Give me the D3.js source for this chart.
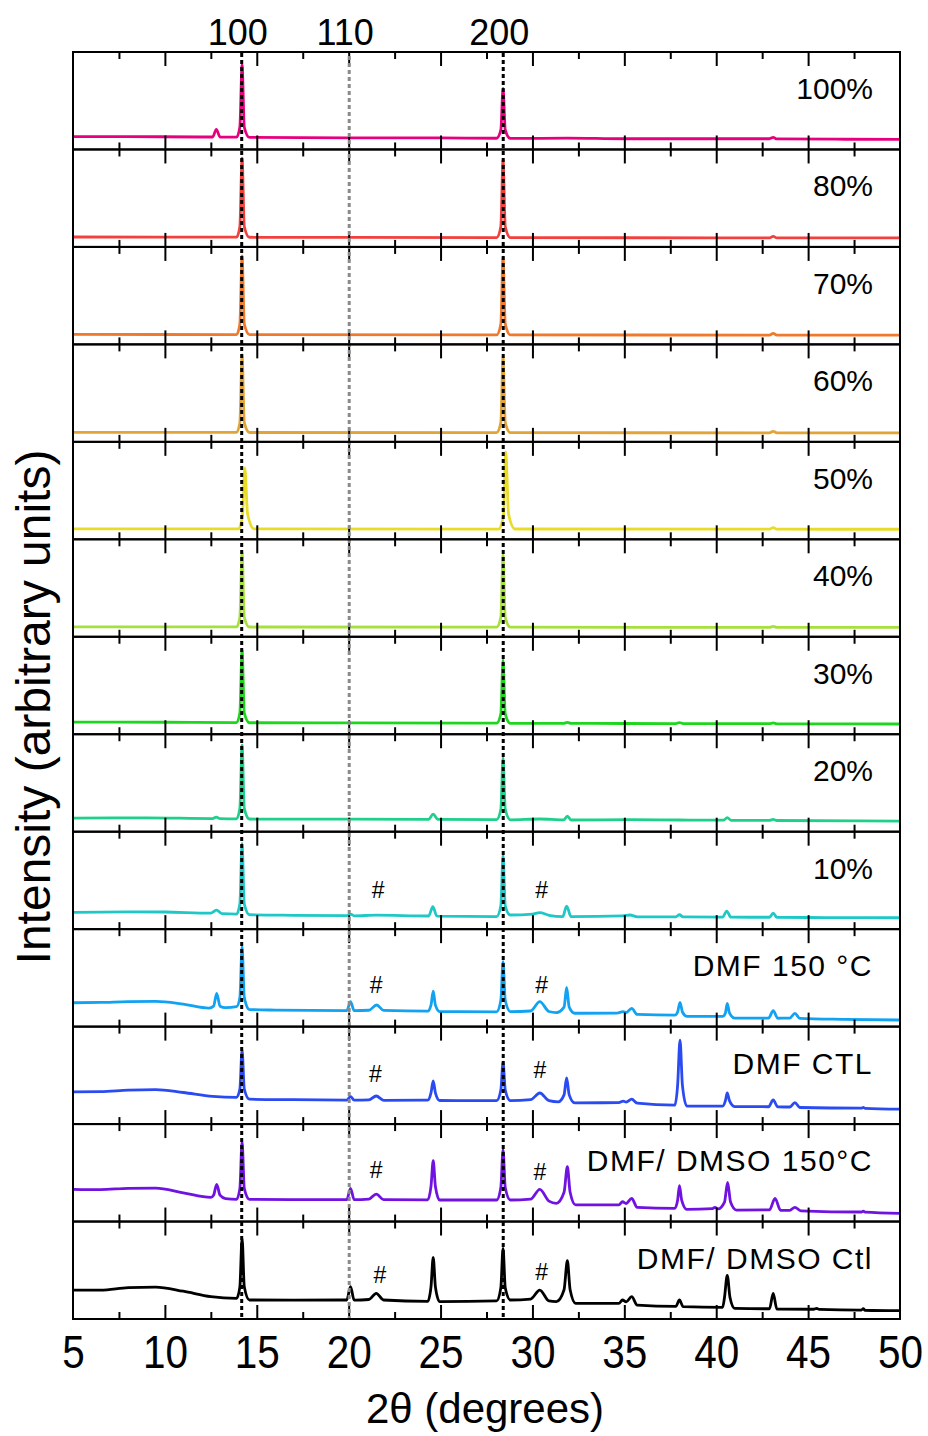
<!DOCTYPE html>
<html>
<head>
<meta charset="utf-8">
<script src="https://cdn.jsdelivr.net/npm/d3@7"></script>
<style>
  body { margin: 0; background: #fff; }
  svg { display: block; }
  text { font-family: "Liberation Sans", Arial, Helvetica, sans-serif; fill: #000; }
</style>
</head>
<body>
<svg id="chart" width="928" height="1436"></svg>
<script>
// ---- sample names and trace colours (top panel to bottom panel) ----
const sampleLabels = ["100%", "80%", "70%", "60%", "50%", "40%", "30%", "20%", "10%",
  "DMF 150 °C", "DMF CTL", "DMF/ DMSO 150°C", "DMF/ DMSO Ctl"];
const sampleColors = ["#e6007e", "#f2403e", "#f07a2c", "#e2a436", "#e8dc28", "#a6e03c",
  "#1ed61e", "#1ed08a", "#1ec8c6", "#12a2f2", "#2a4af2", "#7012e0", "#000000"];

// ---- x axis ticks (2θ, degrees) ----
const xTicksMajor = [5, 10, 15, 20, 25, 30, 35, 40, 45, 50];
const xTicksMinor = [7.5, 12.5, 17.5, 22.5, 27.5, 32.5, 37.5, 42.5, 47.5];

// ---- reflection guide lines ----
const reflectionLabels = ["100", "110", "200"];
const reflectionTheta = [14.18, 20.03, 28.41];
const reflectionColors = ["#000000", "#8a8a8a", "#000000"];

// ---- "#" impurity markers: panel index, 2θ, level (panel units) ----
const hashPanel = [8, 8, 9, 9, 10, 10, 11, 11, 12, 12];
const hashTheta = [21.6, 30.5, 21.5, 30.5, 21.45, 30.4, 21.5, 30.4, 21.7, 30.5];
const hashLevel = [40.2, 40.2, 42.7, 42.7, 51.4, 55.5, 52.9, 50.8, 45.1, 48.2];

// ---- diffraction patterns: [2θ, intensity] (intensity in panel units, 0–100) ----
const p100 = [[5,13.1],[8,13.2],[12,12.8],[12.6,12.8],[12.8,20.7],[13.0,12.8],[13.9,12.6],[14.08,23],[14.2,86.7],[14.32,23],[14.6,12.4],[20,11.9],[25,11.8],[28.05,11.5],[28.28,20],[28.4,62.7],[28.52,20],[28.8,11.3],[30.5,11.4],[31.9,11.6],[35,11.0],[40,11.0],[42.9,11.0],[43.1,12.3],[43.3,10.9],[47,10.5],[50,10.4]];
const p80 = [[5,10.2],[13.9,10.0],[14.08,21],[14.2,91.2],[14.32,21],[14.6,9.9],[20,9.8],[28.05,9.6],[28.28,21],[28.4,89.2],[28.52,21],[28.8,9.5],[35,9.4],[42.9,9.3],[43.1,10.8],[43.3,9.3],[50,9.2]];
const p70 = [[5,10.2],[13.9,10.1],[14.08,21],[14.2,90.7],[14.32,21],[14.6,10.0],[28.05,9.8],[28.28,21],[28.4,89.6],[28.52,21],[28.8,9.7],[42.9,9.6],[43.1,11.2],[43.3,9.6],[50,9.5]];
const p60 = [[5,9.8],[13.9,9.7],[14.08,20],[14.2,89.1],[14.32,20],[14.6,9.6],[28.05,9.5],[28.28,20],[28.4,87.1],[28.52,20],[28.8,9.4],[42.9,9.3],[43.1,10.8],[43.3,9.3],[50,9.2]];
const p50 = [[5,10.8],[14.0,10.7],[14.22,24],[14.35,73.2],[14.5,26],[14.85,10.8],[28.15,10.5],[28.42,24],[28.55,89.6],[28.7,26],[29.05,10.6],[42.9,10.4],[43.1,12.0],[43.3,10.4],[50,10.3]];
const p40 = [[5,10.2],[13.9,10.1],[14.08,20],[14.2,87.0],[14.32,20],[14.6,10.0],[28.05,9.9],[28.28,20],[28.4,83.9],[28.52,20],[28.8,9.8],[42.9,9.7],[43.1,10.6],[43.3,9.7],[50,9.6]];
const p30 = [[5,12.5],[10,12.3],[13.9,12.0],[14.08,22],[14.2,86.4],[14.32,22],[14.6,11.8],[20,11.6],[28.05,11.3],[28.28,21],[28.4,76.1],[28.52,21],[28.8,11.2],[31.7,11.2],[31.9,12.2],[32.1,11.1],[35,11.0],[37.8,10.9],[38.0,12.0],[38.2,10.9],[42.9,10.8],[43.1,11.6],[43.3,10.7],[50,10.5]];
const p20 = [[5,14.0],[9,14.2],[12.6,13.5],[12.8,15.0],[13.0,13.4],[13.9,13.2],[14.08,24],[14.2,88.9],[14.32,24],[14.6,13.0],[20,12.8],[24.35,12.7],[24.6,18.0],[24.85,12.6],[28.05,12.4],[28.28,23],[28.4,75.6],[28.52,23],[28.8,12.2],[30.4,13.0],[31.7,12.1],[31.9,16.0],[32.1,12.0],[35.3,12.3],[38,12.0],[40.4,11.8],[40.6,14.5],[40.8,11.7],[42.9,11.6],[43.1,12.6],[43.3,11.5],[50,10.9]];
const p10 = [[5,17.3],[8,17.8],[10,17.6],[12.5,16.5],[12.8,19.6],[13.1,16.0],[13.9,15.5],[14.08,26],[14.2,88.1],[14.32,26],[14.6,14.8],[17,14.2],[19.9,13.8],[20.1,15.5],[20.3,13.7],[21.5,14.3],[24.35,13.5],[24.58,23.0],[24.8,13.4],[28.05,12.9],[28.28,24],[28.4,76.0],[28.52,24],[28.8,14.5],[30.0,15.5],[30.4,16.9],[30.9,14.2],[31.65,12.9],[31.86,23.7],[32.1,12.8],[34.9,13.6],[35.3,14.5],[35.7,12.7],[37.8,12.6],[38.0,14.8],[38.2,12.5],[40.35,12.4],[40.57,18.6],[40.8,12.3],[42.9,12.2],[43.1,16.5],[43.3,12.1],[46,11.9],[50,11.7]];
const pDmf150 = [[5,24.5],[6.5,24.8],[8,25.6],[9.5,25.8],[11,23.0],[12.4,19.0],[12.65,21],[12.82,34.1],[13.0,21],[13.3,19.5],[13.9,20.4],[14.08,30],[14.2,82.0],[14.32,30],[14.6,17.5],[16,17.0],[19.9,16.5],[20.1,25.6],[20.3,16.4],[21.1,16.8],[21.52,22.2],[21.9,16.6],[24.3,15.8],[24.48,22],[24.6,36.5],[24.72,22],[24.95,15.4],[28.05,15.2],[28.28,27],[28.4,66.6],[28.52,27],[28.8,15.4],[29.9,16.0],[30.4,25.6],[30.9,15.5],[31.3,14.4],[31.72,20],[31.86,40.3],[32.0,20],[32.3,13.7],[34.6,13.9],[34.93,15.3],[35.1,14.5],[35.4,18.7],[35.7,12.5],[37.75,11.8],[37.9,15],[38.03,24.9],[38.16,15],[38.4,10.6],[40.35,10.5],[40.5,14],[40.6,23.9],[40.72,14],[41.0,8.8],[42.85,8.8],[43.1,16.3],[43.35,8.6],[44.0,8.7],[44.28,13.6],[44.55,8.5],[47,7.5],[50,6.8]];
const pDmfCtl = [[5,33.0],[6.5,33.2],[8,34.8],[9.5,35.4],[11,32.4],[12.6,28.5],[13.9,27.5],[14.08,36],[14.2,75.9],[14.32,36],[14.6,25.5],[17,25.0],[19.9,24.6],[20.1,28.5],[20.3,24.5],[21.1,24.8],[21.5,28.8],[21.9,24.4],[24.3,24.5],[24.48,32],[24.6,44.2],[24.72,32],[24.95,24.2],[28.05,24.0],[28.28,35],[28.4,63.6],[28.52,35],[28.8,24.0],[29.9,25.0],[30.4,31.9],[30.9,24.0],[31.4,22.8],[31.72,30],[31.86,47.3],[32.0,30],[32.3,21.8],[34.7,22.0],[34.95,23.6],[35.1,22.5],[35.4,25.5],[35.7,21.5],[37.75,19.5],[37.9,40],[38.03,86.2],[38.16,40],[38.4,18.5],[40.35,18.4],[40.5,24],[40.6,31.9],[40.72,24],[41.0,18.0],[42.85,17.8],[43.1,24.7],[43.35,17.6],[44.0,17.5],[44.28,22.0],[44.55,17.0],[47.9,16.3],[48.0,17.0],[48.1,16.2],[50,15.4]];
const pMix150 = [[5,33.1],[6.5,32.8],[8,34.1],[9.5,34.3],[11,29.5],[12.5,24.8],[12.65,27],[12.82,38.2],[13.0,27],[13.3,23.5],[13.9,22.8],[14.08,34],[14.2,81.9],[14.32,34],[14.6,22.8],[17,22.5],[19.9,22.4],[20.1,34.1],[20.3,22.4],[21.1,23.0],[21.5,28.2],[21.9,22.5],[24.3,22.2],[24.48,36],[24.6,62.4],[24.72,36],[24.95,22.1],[28.05,22.1],[28.28,35],[28.4,73.4],[28.52,35],[28.8,22.1],[29.9,23.0],[30.4,33.1],[30.9,21.0],[31.3,18.7],[31.72,30],[31.9,56.3],[32.05,30],[32.35,17.0],[34.7,17.0],[34.9,20.3],[35.1,18.5],[35.4,23.8],[35.7,14.5],[37.75,13.5],[37.9,22],[38.0,36.8],[38.12,22],[38.4,12.5],[39.8,13.3],[39.93,14.6],[40.1,13.0],[40.45,20],[40.62,40.2],[40.78,20],[41.1,11.8],[42.9,12.0],[43.2,23.8],[43.5,11.6],[44.0,11.5],[44.28,14.6],[44.6,11.0],[47.9,9.8],[48.0,10.6],[48.1,9.6],[50,8.4]];
const pMixCtl = [[5,29.7],[6.5,29.6],[8,32.2],[9.5,32.8],[11,28.5],[12.5,22.9],[13.9,21.2],[14.08,33],[14.2,82.8],[14.32,33],[14.6,19.5],[17,19.4],[19.9,19.5],[20.1,33.1],[20.3,19.4],[21.1,20.0],[21.5,26.3],[21.9,19.5],[24.3,18.0],[24.48,33],[24.6,63.3],[24.72,33],[24.95,17.8],[28.05,18.5],[28.28,32],[28.4,72.5],[28.52,32],[28.8,19.5],[29.9,20.5],[30.4,29.7],[30.9,18.5],[31.3,17.8],[31.72,30],[31.9,59.8],[32.05,30],[32.35,16.1],[34.7,16.0],[34.9,19.5],[35.1,17.5],[35.4,22.9],[35.7,14.3],[37.8,13.0],[38.0,19.5],[38.2,12.6],[40.35,12.0],[40.45,22],[40.6,44.8],[40.75,22],[41.0,11.0],[42.9,10.5],[43.1,26.3],[43.3,10.2],[45.3,10.0],[45.47,10.9],[45.6,9.8],[47.9,9.2],[48.0,10.5],[48.1,9.0],[50,8.5]];

const patterns = [p100, p80, p70, p60, p50, p40, p30, p20, p10, pDmf150, pDmfCtl, pMix150, pMixCtl];

// ---- layout ----
const W = 928, H = 1436;
const plotLeft = 73, plotRight = 900, plotTop = 52, plotBottom = 1319;
const nPanels = patterns.length;
const panelH = (plotBottom - plotTop) / nPanels;
const majorLen = 14, minorLen = 7;
const fontStack = '"Liberation Sans", Arial, Helvetica, sans-serif';

const svg = d3.select("#chart");
svg.append("rect").attr("width", W).attr("height", H).attr("fill", "#fff");

const x = d3.scaleLinear().domain([5, 50]).range([plotLeft, plotRight]);

const panels = d3.range(nPanels).map(i => {
  const top = plotTop + i * panelH;
  return {
    i, top, bottom: top + panelH,
    y: d3.scaleLinear().domain([0, 100]).range([top + panelH, top])
  };
});

// traces
const line = d3.line().curve(d3.curveMonotoneX);
panels.forEach(p => {
  line.x(d => x(d[0])).y(d => p.y(d[1]));
  svg.append("path")
    .datum(patterns[p.i])
    .attr("fill", "none")
    .attr("stroke", sampleColors[p.i])
    .attr("stroke-width", 2.8)
    .attr("stroke-linejoin", "round")
    .attr("d", line);
});

// inward ticks on the top and bottom edge of every panel
function tickAxis(axisFn, values, len) {
  return axisFn(x).tickValues(values).tickSizeInner(-len).tickSizeOuter(0).tickFormat("");
}
panels.forEach(p => {
  [[d3.axisBottom, p.bottom], [d3.axisTop, p.top]].forEach(([fn, yPos]) => {
    [[xTicksMajor.slice(1, -1), majorLen], [xTicksMinor, minorLen]].forEach(([vals, len]) => {
      const g = svg.append("g").attr("transform", `translate(0,${yPos})`).call(tickAxis(fn, vals, len));
      g.select(".domain").remove();
      g.selectAll(".tick line").attr("stroke", "#000").attr("stroke-width", 2);
    });
  });
});

// reflection guide lines
reflectionTheta.forEach((t, k) => {
  svg.append("line")
    .attr("x1", x(t)).attr("x2", x(t))
    .attr("y1", plotTop + (k === 1 ? 4 : 1)).attr("y2", plotBottom - 1)
    .attr("stroke", reflectionColors[k])
    .attr("stroke-width", 3)
    .attr("stroke-dasharray", "4,3");
});

// panel frames
panels.forEach(p => {
  svg.append("rect")
    .attr("x", plotLeft).attr("y", p.top)
    .attr("width", plotRight - plotLeft).attr("height", panelH)
    .attr("fill", "none").attr("stroke", "#000").attr("stroke-width", 2);
});

// sample labels
panels.forEach(p => {
  const isPct = sampleLabels[p.i].endsWith("%");
  svg.append("text")
    .attr("x", 873).attr("y", p.top + 47)
    .attr("text-anchor", "end")
    .attr("font-size", 30)
    .attr("letter-spacing", isPct ? 0 : 1.5)
    .text(sampleLabels[p.i]);
});

// "#" markers
hashPanel.forEach((pi, k) => {
  svg.append("text")
    .attr("x", x(hashTheta[k])).attr("y", panels[pi].y(hashLevel[k]))
    .attr("dy", "0.36em")
    .attr("text-anchor", "middle")
    .attr("font-size", 23)
    .text("#");
});

// reflection labels above the top panel
reflectionLabels.forEach((lab, k) => {
  svg.append("text")
    .attr("x", x(reflectionTheta[k]) - 4).attr("y", 45)
    .attr("text-anchor", "middle")
    .attr("font-size", 36)
    .text(lab);
});

// bottom x axis labels
const xAxis = svg.append("g")
  .attr("transform", `translate(0,${plotBottom})`)
  .call(d3.axisBottom(x).tickValues(xTicksMajor).tickSize(0).tickFormat(d3.format("d")));
xAxis.select(".domain").remove();
xAxis.selectAll(".tick text")
  .attr("y", 49).attr("dy", null)
  .attr("transform", "scale(0.88,1)")
  .style("font-family", fontStack)
  .attr("font-size", 46)
  .attr("fill", "#000");

// axis titles
svg.append("text")
  .attr("x", 485).attr("y", 1423)
  .attr("text-anchor", "middle")
  .attr("font-size", 42)
  .text("2θ (degrees)");

svg.append("text")
  .attr("transform", "translate(50,707) rotate(-90)")
  .attr("text-anchor", "middle")
  .attr("font-size", 48)
  .text("Intensity (arbitrary units)");
</script>
</body>
</html>
